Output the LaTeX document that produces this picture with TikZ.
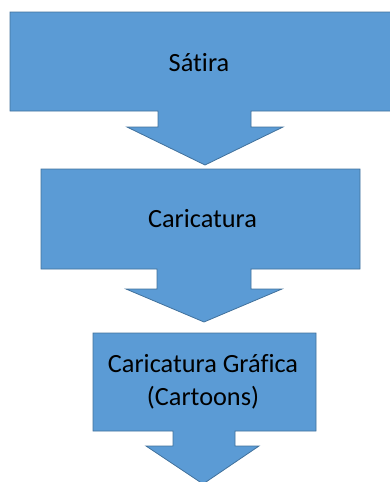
\documentclass[tikz,border=0pt]{standalone}
\usepackage{fontspec}
\setmainfont[Ligatures=NoCommon]{Carlito}
\definecolor{offblue}{HTML}{5B9BD5}
\definecolor{offedge}{HTML}{41719C}
\begin{document}
\begin{tikzpicture}[x=1pt,y=-1pt,
  callout/.style={fill=offblue,draw=offedge,line width=0.8pt,line join=miter},
  lbl/.style={font=\fontsize{26.3}{33}\selectfont,text=black,align=center,inner sep=0pt}]
\useasboundingbox (0,0) rectangle (390,482);
\clip (0,0) rectangle (390,482);
% shape 1
\draw[callout] (10,12) -- (392,12) -- (392,111) -- (251,111) -- (251,127) -- (283,127)
  -- (205,165) -- (127,127) -- (158,127) -- (158,111) -- (10,111) -- cycle;
% shape 2
\draw[callout] (41,169) -- (360,169) -- (360,269) -- (251,269) -- (251,289) -- (282,289)
  -- (204,322) -- (126,289) -- (157,289) -- (157,269) -- (41,269) -- cycle;
% shape 3
\draw[callout] (93,333) -- (316,333) -- (316,431) -- (235,431) -- (235,446) -- (259,446)
  -- (203,484) -- (146,446) -- (173,446) -- (173,431) -- (93,431) -- cycle;
\node[lbl] (satira) at (199,63) {Sátira};
\node[lbl] (caric) at (202.5,219) {Caricatura};
\node[lbl] (grafica) at (203,382) {Caricatura Gráfica\\(Cartoons)};
\end{tikzpicture}
\end{document}
